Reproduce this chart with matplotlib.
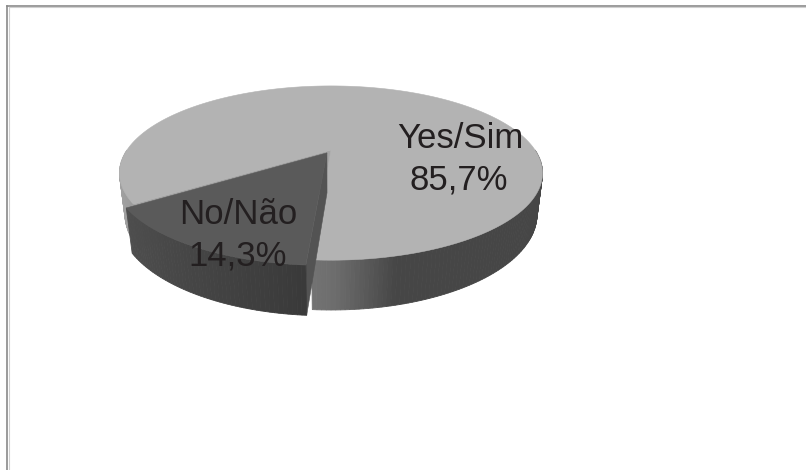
import numpy as np
import matplotlib
matplotlib.use('Agg')
import matplotlib.pyplot as plt
from matplotlib.patches import Polygon
from matplotlib.lines import Line2D

# ---- data ----
categories = ['No/Não', 'Yes/Sim']
values = [14.3, 85.7]
pct_labels = ['14,3%', '85,7%']
top_gray = [90, 179]          # grey level of the top face of each slice
explode = [0.04, 0.0]

# ---- figure ----
W, H = 806, 470
fig = plt.figure(figsize=(8.06, 4.70), dpi=100)
ax = fig.add_axes([0, 0, 1, 1])
ax.set_xlim(0, W)
ax.set_ylim(H, 0)
ax.axis('off')

# frame (top and left border only visible)
fig.add_artist(Line2D([7.5 / W, 1], [1 - 5.5 / H, 1 - 5.5 / H], color='#8a8a8a', lw=1.2))
fig.add_artist(Line2D([7.5 / W, 7.5 / W], [0, 1 - 5.5 / H], color='#8a8a8a', lw=1.2))
fig.add_artist(Line2D([8.8 / W, 1], [1 - 6.8 / H, 1 - 6.8 / H], color='#d0d0d0', lw=0.8))
fig.add_artist(Line2D([8.8 / W, 8.8 / W], [0, 1 - 6.8 / H], color='#d0d0d0', lw=0.8))

# ---- 3D projection parameters ----
phi = np.radians(23.4)
s, c = np.sin(phi), np.cos(phi)
k = 3.78
D = k * c
S = 204.0
CX, CY = 331.0, 150.0
h = 0.217


def proj(x, d, z):
    Yw = d * s + z * c
    Ww = -d * c + z * s
    f = D / (D - Ww)
    return CX + S * x * f, CY - S * Yw * f


def gray(v):
    v = max(0, min(255, v)) / 255.0
    return (v, v, v)


def shade(t):
    cs = np.cos(t)
    if cs < 0:
        return 0.62 - 0.30 * cs
    return max(0.39, 0.62 - 0.95 * cs)


def rim(th, off, z, r=1.0):
    t = np.radians(th)
    return proj(r * np.cos(t) + off[0], r * np.sin(t) + off[1], z)


def visible_ranges(a0, a1):
    out = []
    for n in (-1, 0, 1, 2):
        lo, hi = max(a0, 180 + 360 * n), min(a1, 360 + 360 * n)
        if lo < hi:
            out.append((lo, hi))
    return out


def draw_slice(a0, a1, off, base):
    # cut faces
    for th, sign in ((a0, -1), (a1, 1)):
        t = np.radians(th)
        nx, nd = -np.sin(t) * sign, np.cos(t) * sign
        mx, md = 0.5 * np.cos(t) + off[0], 0.5 * np.sin(t) + off[1]
        dot = -mx * nx + (-D * c - md) * nd
        if dot > 0:
            p = [proj(off[0], off[1], 0), rim(th, off, 0), rim(th, off, -h), proj(off[0], off[1], -h)]
            col = gray(base * 0.92)
            ax.add_patch(Polygon(p, closed=True, fc=col, ec=col, lw=0.4, zorder=1))
    # outer side walls with shading
    for lo, hi in visible_ranges(a0, a1):
        n = max(2, int(np.ceil(hi - lo)))
        ths = np.linspace(lo, hi, n + 1)
        for i in range(n):
            ta, tb = ths[i], ths[i + 1]
            tm = np.radians(0.5 * (ta + tb))
            col = gray(base * shade(tm))
            p = [rim(ta, off, 0), rim(tb, off, 0), rim(tb, off, -h), rim(ta, off, -h)]
            ax.add_patch(Polygon(p, closed=True, fc=col, ec=col, lw=0.6, zorder=1))
    # top face
    ths = np.linspace(a0, a1, int(abs(a1 - a0)) + 2)
    p = [proj(off[0], off[1], 0)] + [rim(th, off, 0) for th in ths]
    col = gray(base)
    ax.add_patch(Polygon(p, closed=True, fc=col, ec=col, lw=0.4, zorder=1))


# angles: the small slice ends at the front edge
end_small = 266.0
spans = [360 * v / sum(values) for v in values]
a_small = (end_small - spans[0], end_small)
a_big = (end_small, end_small + spans[1])
mid_small = np.radians(0.5 * (a_small[0] + a_small[1]))
off_small = (explode[0] * np.cos(mid_small), explode[0] * np.sin(mid_small))

# big slice first (behind), then the exploded small slice
draw_slice(a_big[0], a_big[1], (0.0, 0.0), top_gray[1])
draw_slice(a_small[0], a_small[1], off_small, top_gray[0])

# ---- labels ----
txt_col = '#231f20'
font = dict(family=['Liberation Sans', 'DejaVu Sans'], fontsize=25, color=txt_col, ha='center', va='baseline')
ax.text(238, 224, categories[0], **font)
ax.text(238, 265, pct_labels[0], **font)
ax.text(460, 148, categories[1], **font)
ax.text(459, 190, pct_labels[1], **font)

fig.savefig('out.png', dpi=100)
